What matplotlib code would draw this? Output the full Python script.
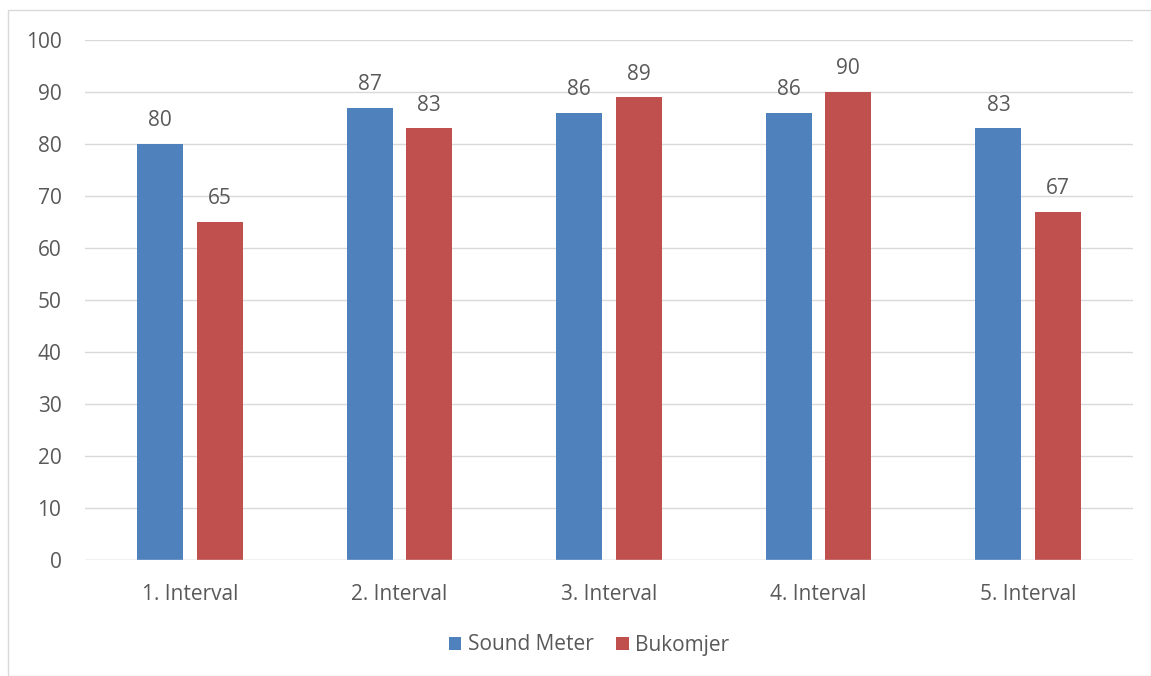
import matplotlib
matplotlib.use("Agg")
import matplotlib.pyplot as plt
from matplotlib.patches import Rectangle
import numpy as np

categories = ["1. Interval", "2. Interval", "3. Interval", "4. Interval", "5. Interval"]
sound_meter = [80, 87, 86, 86, 83]
bukomjer = [65, 83, 89, 90, 67]
series_names = ["Sound Meter", "Bukomjer"]
yticks = [0, 10, 20, 30, 40, 50, 60, 70, 80, 90, 100]

plt.rcParams['font.family'] = ['Open Sans', 'DejaVu Sans']
txt = "#595959"
blue = "#4F81BD"
red = "#C0504D"
fs = 15

W, H = 1151, 676
fig = plt.figure(figsize=(W/100, H/100), dpi=100)
# outer border
fig.add_artist(Rectangle((8/W, 0), 1 - 8/W - 0.5/W, 1 - 10/H, transform=fig.transFigure,
                         fill=False, edgecolor="#D9D9D9", linewidth=1))

ax = fig.add_axes([85/W, 1 - 560/H, (1133-85)/W, (560-40)/H])
x = np.arange(len(categories))
bw = 0.22
off = 0.142
b1 = ax.bar(x - off, sound_meter, bw, color=blue, label=series_names[0], zorder=3)
b2 = ax.bar(x + off, bukomjer, bw, color=red, label=series_names[1], zorder=3)
for bars, vals in ((b1, sound_meter), (b2, bukomjer)):
    for r, v in zip(bars, vals):
        ax.annotate(str(v), (r.get_x() + r.get_width()/2, v), xytext=(0, 9),
                    textcoords="offset points", ha="center", va="bottom",
                    fontsize=fs, color=txt)

ax.set_xlim(-0.5, len(categories) - 0.5)
ax.set_ylim(0, 100)
ax.set_yticks(yticks)
ax.set_xticks(x)
ax.set_xticklabels(categories)
ax.tick_params(axis="both", length=0, labelsize=fs, colors=txt)
ax.tick_params(axis="y", pad=17)
ax.tick_params(axis="x", pad=17)
ax.grid(axis="y", color="#D9D9D9", linewidth=1, zorder=0)
for s in ax.spines.values():
    s.set_visible(False)
ax.axhline(0, color="#D9D9D9", linewidth=1, zorder=4)

leg = fig.legend(handles=[b1, b2], loc="center", bbox_to_anchor=(589/W, 1 - 645/H),
                 ncol=2, frameon=False, fontsize=fs, handlelength=0.6, handleheight=0.6,
                 handletextpad=0.3, columnspacing=1.1)
for t in leg.get_texts():
    t.set_color(txt)

fig.savefig("out.png", dpi=100)
